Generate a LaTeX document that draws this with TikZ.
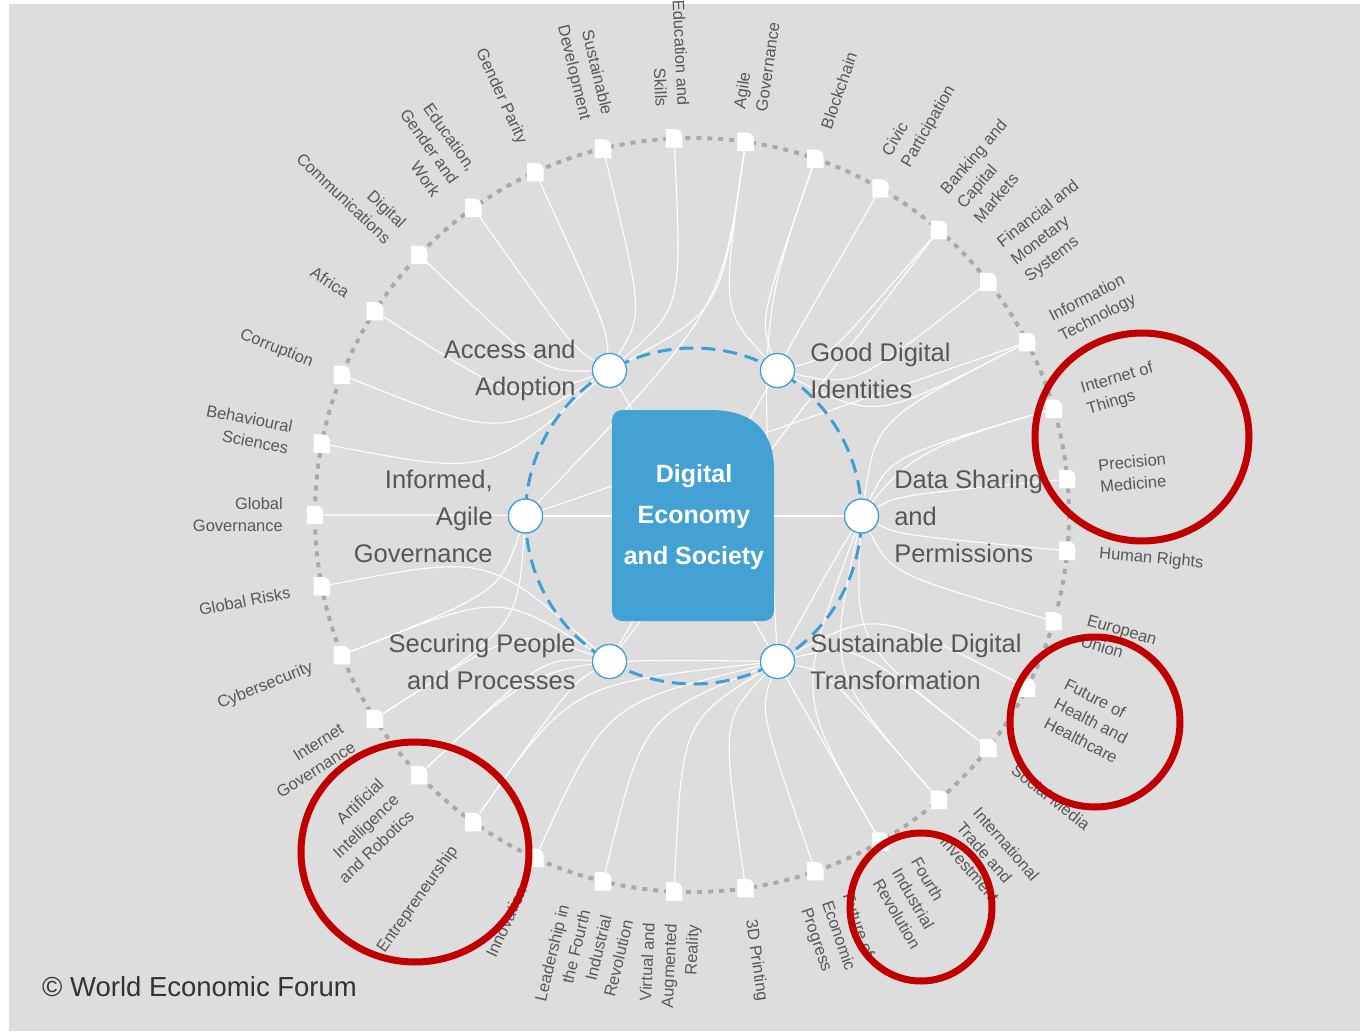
\documentclass[tikz,border=0pt]{standalone}
\usepackage{fontspec}
\setmainfont{Liberation Sans}
\usetikzlibrary{positioning,calc}

\definecolor{bgGray}{HTML}{DDDDDD}
\definecolor{labelGray}{HTML}{585858}
\definecolor{hubText}{HTML}{575757}
\definecolor{boxBlue}{HTML}{44A1D3}
\definecolor{ringBlue}{HTML}{3E9FD6}
\definecolor{dotGray}{HTML}{A9A9A9}
\definecolor{markRed}{HTML}{C00000}
\definecolor{copyGray}{HTML}{333333}

\begin{document}
\begin{tikzpicture}[x=1pt,y=1pt,
  outnode/.style={minimum width=16pt,minimum height=18pt,inner sep=0pt},
  hub/.style={circle,fill=white,draw=ringBlue,line width=1.2pt,minimum size=34pt,inner sep=0pt},
  hubtext/.style={text=hubText,font=\fontsize{25.5}{37}\selectfont,inner sep=0pt},
  toplabel/.style={text=labelGray,font=\fontsize{16.5}{22}\selectfont,inner sep=2pt},
  link/.style={white,line width=1.1pt},
  redring/.style={markRed,line width=7pt}]

% background
\fill[white] (-692,515) rectangle (668,-516);
\fill[bgGray] (-683,511) rectangle (668,-516);
\useasboundingbox (-692,515) rectangle (668,-516);

% outer ring of topics
\draw[dotGray,line width=4pt,dash pattern=on 5pt off 6pt] (0,0) circle (377);
\foreach \k in {0,...,32}
  \node[outnode] (o\k) at ({5.4545+\k*10.9091}:377) {};

% hubs
\coordinate (mid) at (1.5,-1);
\node[hub] (hD) at ($(mid)+(0:168)$) {};
\node[hub] (hG) at ($(mid)+(60:168)$) {};
\node[hub] (hA) at ($(mid)+(120:168)$) {};
\node[hub] (hI) at ($(mid)+(180:168)$) {};
\node[hub] (hP) at ($(mid)+(240:168)$) {};
\node[hub] (hS) at ($(mid)+(300:168)$) {};

% links
\foreach \k/\h in {7/hA,8/hA,9/hA,10/hA,11/hA,12/hA,13/hA,14/hA,15/hA,
    2/hG,3/hG,4/hG,5/hG,6/hG,7/hG,
    0/hD,1/hD,2/hD,31/hD,32/hD,29/hD,28/hD,27/hD,
    30/hS,29/hS,28/hS,27/hS,26/hS,25/hS,24/hS,23/hS,22/hS,21/hS,20/hS,6/hS,1/hS,
    17/hP,18/hP,19/hP,20/hP,21/hP,
    16/hI,19/hI,18/hI,7/hI}
  \draw[link] (o\k) .. controls ($(0,0)!0.55!(o\k.center)$) .. (\h);
\draw[link] (hI) -- (o2);
\draw[link] (hP) -- (o4);
\draw[link] (hA) -- (hS);
\draw[link] (hG) -- (hP);
\draw[link] (hI) -- (hD);

% inner ring
\draw[ringBlue,line width=3pt,dash pattern=on 14pt off 8pt] (mid) circle (168);
\foreach \h in {hD,hG,hA,hI,hP,hS}
  \node[hub] at (\h) {};

% centre box
\fill[boxBlue] (-80,-96) -- (-80,95) arc (180:90:10) -- (18,105)
  .. controls (60,105) and (82,85) .. (82,45) -- (82,-96) arc (0:-90:10)
  -- (-70,-106) arc (270:180:10) -- cycle;
\node[text=white,align=center,inner sep=0pt,
  font=\fontsize{25}{41}\selectfont\bfseries] (core) at (2,-2)
  {Digital\\Economy\\and Society};

% hub labels
\node[hubtext,align=right,left=16pt of hA] (lA) {Access and\\Adoption};
\node[hubtext,align=left,right=15pt of hG] (lG) {Good Digital\\Identities};
\node[hubtext,align=right,left=15pt of hI] (lI) {Informed,\\Agile\\Governance};
\node[hubtext,align=left,right=15pt of hD] (lD) {Data Sharing\\and\\Permissions};
\node[hubtext,align=right,left=16pt of hP] (lP) {Securing People\\and Processes};
\node[hubtext,align=left,right=15pt of hS] (lS) {Sustainable Digital\\Transformation};

% topic boxes
\foreach \k in {0,...,32}
  \fill[white] (o\k.south west) |- ([xshift=-7pt]o\k.north east)
    to[out=0,in=90] ([yshift=-7pt]o\k.north east) |- (o\k.south west) -- cycle;

% topic labels
\foreach \k/\txt in {0/{Precision\\Medicine},1/{Internet of\\Things},
    2/{Information\\Technology},3/{Financial and\\Monetary\\Systems},
    4/{Banking and\\Capital\\Markets},5/{Civic\\Participation},6/{Blockchain},
    7/{Agile\\Governance},8/{Education and\\Skills},9/{Sustainable\\Development},
    10/{Gender Parity},11/{Education,\\Gender and\\Work},
    12/{Digital\\Communications},13/{Africa},14/{Corruption},
    15/{Behavioural\\Sciences},16/{Global\\Governance},17/{Global Risks},
    18/{Cybersecurity},19/{Internet\\Governance},
    20/{Artificial\\Intelligence\\and Robotics},21/{Entrepreneurship},
    22/{Innovation},23/{Leadership in\\the Fourth\\Industrial\\Revolution},
    24/{Virtual and\\Augmented\\Reality},25/{3D Printing},
    26/{Future of\\Economic\\Progress},27/{Fourth\\Industrial\\Revolution},
    28/{International\\Trade and\\Investment},29/{Social Media},
    30/{Future of\\Health and\\Healthcare},31/{European\\Union},
    32/{Human Rights}}{
  \pgfmathsetmacro{\ang}{5.4545+\k*10.9091}
  \ifdim\ang pt<90pt \def\side{0}\else\ifdim\ang pt>270pt \def\side{0}\else\def\side{1}\fi\fi
  \ifnum\side=0
    \node[toplabel,rotate=\ang,anchor=west,align=left] (t\k) at (\ang:407) {\txt};
  \else
    \node[toplabel,rotate=\ang-180,anchor=east,align=right] (t\k) at (\ang:407) {\txt};
  \fi
}

% highlights
\draw[redring] (450,78) ellipse (107 and 104);
\draw[redring] (403,-207) ellipse (85 and 85);
\draw[redring] (229,-392) ellipse (71 and 74);
\draw[redring] (-277,-337) ellipse (114 and 110);

\node[anchor=west,inner sep=0pt,text=copyGray,
  font=\fontsize{27.5}{32}\selectfont] (wef) at (-650,-472)
  {\textcopyright{} World Economic Forum};
\end{tikzpicture}
\end{document}
